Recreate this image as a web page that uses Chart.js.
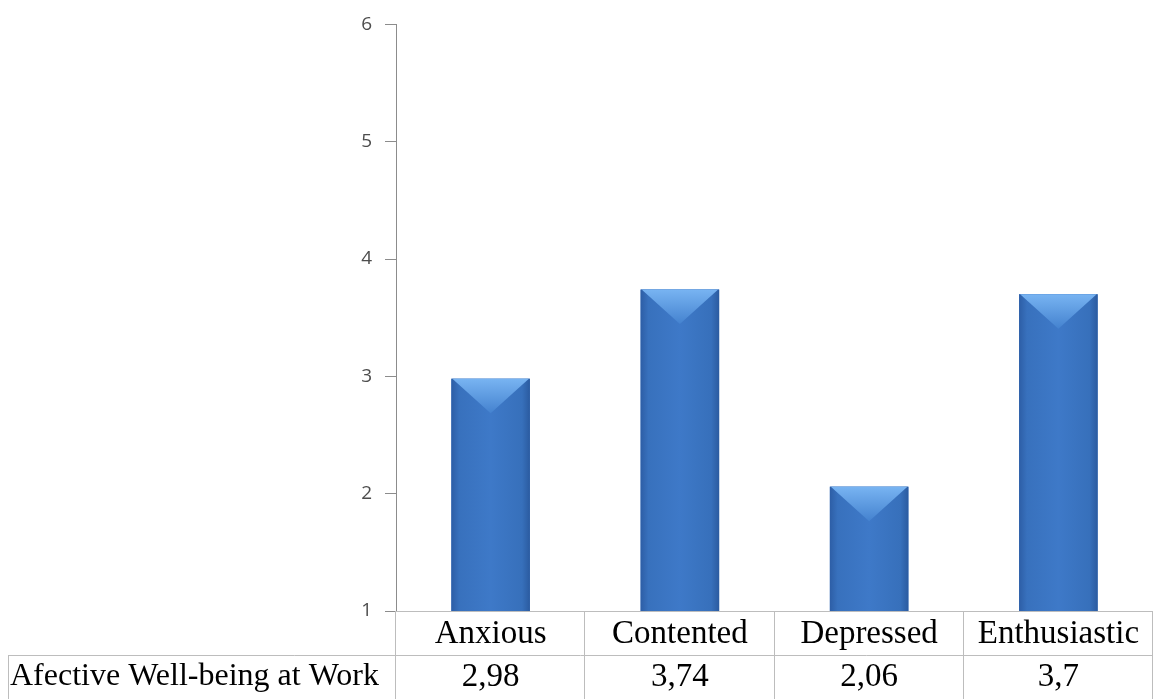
<!DOCTYPE html>
<html>
<head>
<meta charset="utf-8">
<script src="https://cdn.jsdelivr.net/npm/chart.js@4/dist/chart.umd.min.js"></script>
<style>
  html, body { margin: 0; padding: 0; background: #ffffff; }
  #wrap { width: 1156px; height: 699px; }
</style>
</head>
<body>
<div id="wrap"><canvas id="c" width="1156" height="699"></canvas></div>
<script>
// Chart data
const categories = ['Anxious', 'Contented', 'Depressed', 'Enthusiastic'];
const seriesName = 'Afective Well-being at Work';
const wellbeing = [2.98, 3.74, 2.06, 3.7];
const yMin = 1;
const yMax = 6;
const yStep = 1;

const tableFont = '33px "Liberation Serif", "Times New Roman", serif';
const headerFont = '32px "Liberation Serif", "Times New Roman", serif';
const lineColor = '#bdbdbd';

// Formats a value with a decimal comma, as in the data table row
const fmt = v => String(v).replace('.', ',');

// Paints each bar with a shaded body and a light bevel at its top
const bevelBars = {
  id: 'bevelBars',
  afterDatasetsDraw(chart) {
    const ctx = chart.ctx;
    const area = chart.chartArea;
    const meta = chart.getDatasetMeta(0);
    ctx.save();
    meta.data.forEach(el => {
      const { x, y, base, width } = el.getProps(['x', 'y', 'base', 'width'], true);
      const l = x - width / 2, r = x + width / 2;
      const t = y, b = Math.min(base, area.bottom);
      const body = ctx.createLinearGradient(l, 0, r, 0);
      body.addColorStop(0, '#2d5ea6');
      body.addColorStop(0.1, '#3871bd');
      body.addColorStop(0.5, '#3e79c8');
      body.addColorStop(0.9, '#3770bb');
      body.addColorStop(1, '#2b5ba0');
      ctx.fillStyle = body;
      ctx.fillRect(l, t, width, b - t);
      const d = width * 0.44;
      const cap = ctx.createLinearGradient(0, t, 0, t + d);
      cap.addColorStop(0, '#78b4f2');
      cap.addColorStop(1, '#4482cf');
      ctx.fillStyle = cap;
      ctx.beginPath();
      ctx.moveTo(l + 1, t);
      ctx.lineTo(r - 1, t);
      ctx.lineTo(x, t + d);
      ctx.closePath();
      ctx.fill();
    });
    ctx.restore();
  }
};

// Draws the data table under the plot: category row, then the value row
const dataTable = {
  id: 'dataTable',
  afterDraw(chart) {
    const ctx = chart.ctx;
    const xs = chart.scales.x;
    const ys = chart.scales.y;
    const top = Math.round(ys.bottom);
    const rowH = 44;
    const bottom = chart.height;
    const step = xs.getPixelForValue(1) - xs.getPixelForValue(0);
    const left = xs.getPixelForValue(0) - step / 2;
    const right = xs.getPixelForValue(categories.length - 1) + step / 2;
    const headerLeft = 8;

    ctx.save();
    ctx.strokeStyle = lineColor;
    ctx.lineWidth = 1;
    ctx.beginPath();
    ctx.moveTo(left, top + 0.5); ctx.lineTo(right, top + 0.5);
    ctx.moveTo(headerLeft, top + rowH + 0.5); ctx.lineTo(right, top + rowH + 0.5);
    ctx.moveTo(headerLeft + 0.5, top + rowH); ctx.lineTo(headerLeft + 0.5, bottom);
    for (let i = 0; i <= categories.length; i++) {
      const xb = Math.round(left + i * step) - 0.5;
      ctx.moveTo(xb, top); ctx.lineTo(xb, bottom);
    }
    ctx.stroke();

    ctx.fillStyle = '#000000';
    ctx.font = tableFont;
    ctx.textBaseline = 'middle';
    ctx.textAlign = 'center';
    categories.forEach((c, i) => {
      ctx.fillText(c, xs.getPixelForValue(i), top + rowH / 2 + 1);
      ctx.fillText(fmt(wellbeing[i]), xs.getPixelForValue(i), top + rowH + 22);
    });
    ctx.textAlign = 'left';
    ctx.font = headerFont;
    ctx.fillText(seriesName, headerLeft + 2, top + rowH + 22);
    ctx.restore();
  }
};

new Chart(document.getElementById('c'), {
  type: 'bar',
  data: {
    labels: categories,
    datasets: [{
      label: seriesName,
      data: wellbeing,
      backgroundColor: '#3c78c8',
      borderWidth: 0,
      categoryPercentage: 1,
      barPercentage: 0.415
    }]
  },
  options: {
    responsive: false,
    devicePixelRatio: 1,
    animation: false,
    layout: { padding: { top: 20, right: 3, left: 0, bottom: 0 } },
    plugins: {
      legend: { display: false },
      tooltip: { enabled: false }
    },
    scales: {
      x: {
        ticks: { display: false },
        grid: { display: false },
        border: { display: false },
        afterFit: s => { s.height = 88; }
      },
      y: {
        min: yMin,
        max: yMax,
        ticks: {
          stepSize: yStep,
          color: '#4d4d4d',
          padding: 13,
          font: { family: '"Open Sans", "Liberation Sans", sans-serif', size: 19 }
        },
        grid: { drawOnChartArea: false, tickLength: 11, color: '#8c8c8c' },
        border: { color: '#8c8c8c' },
        afterFit: s => { s.width = 396; }
      }
    }
  },
  plugins: [bevelBars, dataTable]
});
</script>
</body>
</html>
